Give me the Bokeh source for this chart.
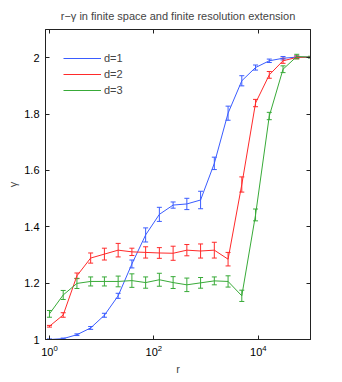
from bokeh.plotting import figure
from bokeh.models import (Range1d, LogAxis, LinearAxis, FixedTicker, Whisker, TeeHead,
                          ColumnDataSource, CustomJSTickFormatter, Legend, LegendItem)
from bokeh.embed import file_html
from bokeh.resources import INLINE

# ---- data ----
r = [1, 1.833, 3.360, 6.158, 11.29, 20.69, 37.93, 69.52, 127.4, 233.6,
     428.1, 784.8, 1438, 2637, 4833, 8859, 16238, 29764, 54556, 100000]

gamma_d1 = [1.000, 1.003, 1.017, 1.041, 1.086, 1.155, 1.268, 1.371, 1.444, 1.477,
            1.481, 1.495, 1.625, 1.803, 1.918, 1.965, 1.989, 1.998, 2.002, 2.002]
err_d1 = [0.002, 0.002, 0.003, 0.005, 0.007, 0.009, 0.014, 0.025, 0.025, 0.011,
          0.020, 0.031, 0.022, 0.025, 0.018, 0.009, 0.006, 0.006, 0.004, 0.002]

gamma_d2 = [1.047, 1.087, 1.226, 1.289, 1.303, 1.317, 1.311, 1.309, 1.307, 1.306,
            1.317, 1.314, 1.317, 1.285, 1.550, 1.839, 1.939, 1.989, 2.001, 2.002]
err_d2 = [0.003, 0.008, 0.010, 0.018, 0.021, 0.024, 0.013, 0.020, 0.019, 0.025,
          0.020, 0.025, 0.028, 0.024, 0.027, 0.013, 0.012, 0.009, 0.005, 0.002]

gamma_d3 = [1.091, 1.158, 1.199, 1.206, 1.206, 1.206, 1.209, 1.202, 1.212, 1.202,
            1.194, 1.201, 1.208, 1.206, 1.155, 1.442, 1.793, 1.959, 2.004, 2.002]
err_d3 = [0.012, 0.016, 0.018, 0.016, 0.016, 0.019, 0.024, 0.020, 0.023, 0.021,
          0.024, 0.019, 0.014, 0.020, 0.020, 0.021, 0.013, 0.012, 0.008, 0.003]

labels = ["d=1", "d=2", "d=3"]
colors = ["#3a5cff", "#ff2a2a", "#38aa38"]
x_ticks = [1, 100, 10000]
y_ticks = [1, 1.2, 1.4, 1.6, 1.8, 2]

FONT = "Liberation Sans"

p = figure(width=342, height=382, x_axis_type="log",
           x_range=Range1d(0.84, 1e5), y_range=Range1d(1, 2.1),
           output_backend="svg", toolbar_location=None,
           min_border_left=45, min_border_right=32, min_border_top=29, min_border_bottom=43,
           title="r\u2212\u03b3 in finite space and finite resolution extension")

p.title.text_font = FONT
p.title.text_font_size = "11px"
p.title.text_font_style = "normal"
p.title.align = "center"
p.title.standoff = 15
p.grid.visible = False
p.outline_line_color = "#222222"
p.background_fill_color = "white"
p.border_fill_color = "white"

items = []
for ys, es, lab, col in [(gamma_d1, err_d1, labels[0], colors[0]),
                         (gamma_d2, err_d2, labels[1], colors[1]),
                         (gamma_d3, err_d3, labels[2], colors[2])]:
    src = ColumnDataSource(dict(x=r, y=ys,
                                lo=[a - b for a, b in zip(ys, es)],
                                hi=[a + b for a, b in zip(ys, es)]))
    ln = p.line("x", "y", source=src, line_color=col, line_width=1)
    w = Whisker(base="x", lower="lo", upper="hi", source=src, dimension="height",
                line_color=col, line_width=1,
                upper_head=TeeHead(size=5, line_color=col, line_width=1),
                lower_head=TeeHead(size=5, line_color=col, line_width=1))
    p.add_layout(w)
    items.append(LegendItem(label=lab, renderers=[ln]))

legend = Legend(items=items, location=(18, 241), orientation="vertical",
                border_line_color=None, background_fill_alpha=0,
                label_text_font=FONT, label_text_font_size="11px",
                glyph_width=38, glyph_height=16, label_height=16,
                label_standoff=3, spacing=0, padding=0, margin=0)
p.add_layout(legend)

# main axes
xa = p.xaxis[0]
xa.ticker = FixedTicker(ticks=x_ticks, minor_ticks=[])
xa.axis_label = "r"
ya = p.yaxis[0]
ya.ticker = FixedTicker(ticks=y_ticks, minor_ticks=[])
ya.formatter = CustomJSTickFormatter(code="return String(Math.round(tick*10)/10);")
ya.axis_label = "\u03b3"

for ax in (xa, ya):
    ax.major_tick_in = 4
    ax.major_tick_out = 0
    ax.minor_tick_line_color = None
    ax.axis_line_color = "#222222"
    ax.major_tick_line_color = "#222222"
    ax.major_label_text_font = FONT
    ax.major_label_text_font_size = "11px"
    ax.major_label_text_color = "black"
    ax.axis_label_text_font = FONT
    ax.axis_label_text_font_size = "11px"
    ax.axis_label_text_font_style = "normal"
xa.major_label_standoff = 5
xa.axis_label_standoff = 4
ya.major_label_standoff = 6
ya.axis_label_standoff = 2

# mirrored ticks top / right (no labels)
blank = CustomJSTickFormatter(code="return '';")
top = LogAxis(ticker=FixedTicker(ticks=x_ticks, minor_ticks=[]),
              formatter=CustomJSTickFormatter(code="return '';"))
right = LinearAxis(ticker=FixedTicker(ticks=y_ticks, minor_ticks=[]), formatter=blank)
for ax in (top, right):
    ax.major_tick_in = 4
    ax.major_tick_out = 0
    ax.minor_tick_line_color = None
    ax.axis_line_color = "#222222"
    ax.major_tick_line_color = "#222222"
    ax.major_label_text_font_size = "1px"
    ax.major_label_standoff = 0
p.add_layout(top, "above")
p.add_layout(right, "right")

open("out.html", "w").write(file_html(p, INLINE))
